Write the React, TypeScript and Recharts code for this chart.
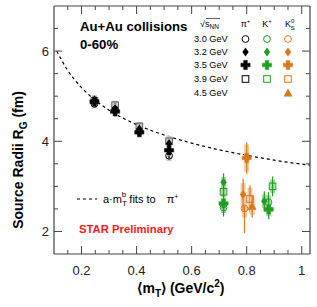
import { ComposedChart, Line, Scatter, XAxis, YAxis, ErrorBar } from 'recharts';

// colours / fonts
const FONT = '"Liberation Sans", Arial, Helvetica, sans-serif';
const FRAME = '#444444';
const BLACK = '#000000';
const GREEN = '#1f9e1f';
const ORANGE = '#d9781c';
const BAND = { pi: '#c8c8c8', kp: '#a8dca8', k0: '#f3c99f' };

// axes
const X_DOMAIN = [0.1, 1.03];
const Y_DOMAIN = [1.5, 7];
const X_TICKS = [0.15, 0.2, 0.25, 0.3, 0.35, 0.4, 0.45, 0.5, 0.55, 0.6, 0.65, 0.7, 0.75, 0.8, 0.85, 0.9, 0.95, 1.0];
const X_LABELS = [0.2, 0.4, 0.6, 0.8, 1];
const Y_TICKS = [2, 2.5, 3, 3.5, 4, 4.5, 5, 5.5, 6, 6.5];
const Y_LABELS = [2, 4, 6];

// a*mT^b fit to pi+
const FIT_MT = [0.11, 0.15, 0.2, 0.25, 0.3, 0.4, 0.5, 0.6, 0.7, 0.8, 0.9, 1.03];
const FIT_R = [6.0, 5.57, 5.19, 4.91, 4.69, 4.37, 4.14, 3.96, 3.81, 3.69, 3.58, 3.47];

// pi+
const PI_MT = [0.247, 0.322, 0.41, 0.518];
const PI_R_30 = [4.83, 4.7, 4.22, 3.68];
const PI_R_32 = [4.92, 4.72, 4.27, 3.95];
const PI_R_35 = [4.88, 4.66, 4.2, 3.8];
const PI_R_39 = [4.9, 4.8, 4.33, 4.0];
const PI_STAT = [0.05, 0.05, 0.05, 0.06];
const PI_SYS = [0.1, 0.1, 0.1, 0.12];

// K+
const KP_MT_30 = [0.716, 0.879];
const KP_MT_32 = [0.716, 0.864];
const KP_MT_35 = [0.716, 0.88];
const KP_MT_39 = [0.716, 0.894];
const KP_R_30 = [2.53, 2.65];
const KP_R_32 = [3.09, 2.67];
const KP_R_35 = [2.62, 2.49];
const KP_R_39 = [2.88, 3.0];
const KP_STAT = [0.2, 0.22];
const KP_SYS = [0.12, 0.15];

// K0s
const K0_MT = [0.792, 0.787, 0.8, 0.812, 0.82];
const K0_R = [2.51, 2.82, 3.63, 2.72, 2.56];
const K0_STAT = [0.55, 0.35, 0.35, 0.3, 0.25];
const K0_SYS = [0.2, 0.25, 0.3, 0.25, 0.2];

type Kind = 'circle' | 'diamond' | 'cross' | 'square' | 'triangle';

const fitData = FIT_MT.map((m, i) => ({ m, r: FIT_R[i] }));

const pts = (m: number[], r: number[], e: number[], s: number[]) =>
  m.map((v, i) => ({ m: v, r: r[i], e: e[i], s: s[i] }));

const SERIES: { key: string; kind: Kind; color: string; band: string; data: any[] }[] = [
  { key: 'pi30', kind: 'circle', color: BLACK, band: BAND.pi, data: pts(PI_MT, PI_R_30, PI_STAT, PI_SYS) },
  { key: 'pi39', kind: 'square', color: '#555', band: BAND.pi, data: pts(PI_MT, PI_R_39, PI_STAT, PI_SYS) },
  { key: 'pi35', kind: 'cross', color: BLACK, band: BAND.pi, data: pts(PI_MT, PI_R_35, PI_STAT, PI_SYS) },
  { key: 'pi32', kind: 'diamond', color: BLACK, band: BAND.pi, data: pts(PI_MT, PI_R_32, PI_STAT, PI_SYS) },
  { key: 'kp30', kind: 'circle', color: GREEN, band: BAND.kp, data: pts(KP_MT_30, KP_R_30, KP_STAT, KP_SYS) },
  { key: 'kp39', kind: 'square', color: GREEN, band: BAND.kp, data: pts(KP_MT_39, KP_R_39, KP_STAT, KP_SYS) },
  { key: 'kp35', kind: 'cross', color: GREEN, band: BAND.kp, data: pts(KP_MT_35, KP_R_35, KP_STAT, KP_SYS) },
  { key: 'kp32', kind: 'diamond', color: GREEN, band: BAND.kp, data: pts(KP_MT_32, KP_R_32, KP_STAT, KP_SYS) },
  ...(['circle', 'diamond', 'cross', 'square', 'triangle'] as Kind[]).map((kind, i) => ({
    key: `k0${i}`,
    kind,
    color: ORANGE,
    band: BAND.k0,
    data: pts([K0_MT[i]], [K0_R[i]], [K0_STAT[i]], [K0_SYS[i]]),
  })),
];

function Marker({ kind, cx, cy, color }: { kind: Kind; cx: number; cy: number; color: string }) {
  if (cx == null || cy == null) return null;
  switch (kind) {
    case 'circle':
      return <circle cx={cx} cy={cy} r={3.4} fill="none" stroke={color} strokeWidth={1} />;
    case 'square':
      return <rect x={cx - 3.3} y={cy - 3.3} width={6.6} height={6.6} fill="none" stroke={color} strokeWidth={1} />;
    case 'diamond':
      return <polygon points={`${cx},${cy - 4.6} ${cx + 3.2},${cy} ${cx},${cy + 4.6} ${cx - 3.2},${cy}`} fill={color} />;
    case 'triangle':
      return <polygon points={`${cx},${cy - 4.5} ${cx + 4.5},${cy + 3.5} ${cx - 4.5},${cy + 3.5}`} fill={color} />;
    case 'cross': {
      const a = 1.8;
      const L = 4.6;
      return (
        <path
          d={`M${cx - a},${cy - L}h${2 * a}v${L - a}h${L - a}v${2 * a}h${-(L - a)}v${L - a}h${-2 * a}v${-(L - a)}h${-(L - a)}v${-2 * a}h${L - a}z`}
          fill={color}
          stroke={color}
          strokeWidth={0.5}
          strokeLinejoin="round"
        />
      );
    }
  }
  return null;
}

const near = (list: number[], v: number) => list.some((l) => Math.abs(l - v) < 1e-6);

function XTick(props: any) {
  const { x, y, payload, side } = props;
  const major = near(X_LABELS, payload.value);
  const len = major ? 8 : 4;
  if (side === 'top') return <line x1={x} x2={x} y1={y} y2={y + len} stroke={FRAME} />;
  return (
    <g>
      <line x1={x} x2={x} y1={y} y2={y - len} stroke={FRAME} />
      {major && (
        <text x={x} y={y + 21} textAnchor="middle" fontSize={13} fontFamily={FONT} fill="#222">
          {payload.value === 1 ? '1' : payload.value.toFixed(1)}
        </text>
      )}
    </g>
  );
}

function YTick(props: any) {
  const { x, y, payload, side } = props;
  const major = near(Y_LABELS, payload.value);
  const len = major ? 8 : 4;
  if (side === 'right') return <line x1={x} x2={x - len} y1={y} y2={y} stroke={FRAME} />;
  return (
    <g>
      <line x1={x} x2={x + len} y1={y} y2={y} stroke={FRAME} />
      {major && (
        <text x={x - 5} y={y + 5} textAnchor="end" fontSize={13} fontFamily={FONT} fill="#222">
          {payload.value}
        </text>
      )}
    </g>
  );
}

const ROWS: { label: string; kind: Kind; cols: boolean[] }[] = [
  { label: '3.0 GeV', kind: 'circle', cols: [true, true, true] },
  { label: '3.2 GeV', kind: 'diamond', cols: [true, true, true] },
  { label: '3.5 GeV', kind: 'cross', cols: [true, true, true] },
  { label: '3.9 GeV', kind: 'square', cols: [true, true, true] },
  { label: '4.5 GeV', kind: 'triangle', cols: [false, false, true] },
];
const COL_X = [245.5, 267, 288];
const COL_C = [BLACK, GREEN, ORANGE];
const ROW_Y = [39, 52, 65, 79, 93];

function Overlay() {
  return (
    <svg width={317} height={307} style={{ position: 'absolute', left: 0, top: 0, pointerEvents: 'none' }} fontFamily={FONT}>
      <text x={80} y={31} fontSize={13.2} fontWeight="bold">Au+Au collisions</text>
      <text x={80} y={49} fontSize={13.2} fontWeight="bold">0-60%</text>

      {/* legend table */}
      <text x={200} y={27} fontSize={9}>
        √<tspan>s</tspan>
        <tspan fontSize={6.5} dy={2}>NN</tspan>
      </text>
      <line x1={206} x2={220} y1={18.5} y2={18.5} stroke="#222" strokeWidth={0.7} />
      <text x={COL_X[0]} y={27} fontSize={9} textAnchor="middle">
        π<tspan fontSize={6} dy={-4}>+</tspan>
      </text>
      <text x={COL_X[1]} y={27} fontSize={9} textAnchor="middle">
        K<tspan fontSize={6} dy={-4}>+</tspan>
      </text>
      <text x={COL_X[2] - 3} y={27} fontSize={9}>
        K<tspan fontSize={6} dy={-4}>0</tspan>
        <tspan fontSize={6} dx={-3.5} dy={7}>S</tspan>
      </text>
      {ROWS.map((row, i) => (
        <g key={row.label}>
          <text x={194} y={ROW_Y[i] + 3.3} fontSize={9.2}>{row.label}</text>
          {row.cols.map((on, j) =>
            on ? <Marker key={j} kind={row.kind} cx={COL_X[j]} cy={ROW_Y[i]} color={COL_C[j]} /> : null
          )}
        </g>
      ))}

      {/* fit legend */}
      <line x1={77} x2={97} y1={199} y2={199} stroke={BLACK} strokeWidth={1.2} strokeDasharray="3 3" />
      <text x={103} y={203} fontSize={11}>
        a·m<tspan fontSize={8} dy={3}>T</tspan>
        <tspan fontSize={8} dx={-5} dy={-9}>b</tspan>
        <tspan dy={6}> fits to </tspan>
        <tspan dx={8}>π</tspan>
        <tspan fontSize={7} dy={-4}>+</tspan>
      </text>

      <text x={79} y={233} fontSize={11.3} fontWeight="bold" fill="#ff1a1a">STAR Preliminary</text>

      {/* axis titles */}
      <text x={181} y={293} fontSize={14} fontWeight="bold" textAnchor="middle">
        ⟨m<tspan fontSize={10} dy={4}>T</tspan>
        <tspan dy={-4}>⟩ (GeV/c</tspan>
        <tspan fontSize={10} dy={-6}>2</tspan>
        <tspan dy={6}>)</tspan>
      </text>
      <text transform="translate(23,160) rotate(-90)" fontSize={14} fontWeight="bold" textAnchor="middle">
        Source Radii R<tspan fontSize={10} dy={4}>G</tspan>
        <tspan dy={-4}> (fm)</tspan>
      </text>
    </svg>
  );
}

export default function App() {
  const common = { type: 'number' as const, allowDataOverflow: true, tickLine: false, tickSize: 0, tickMargin: 0, interval: 0 as const, axisLine: { stroke: FRAME, strokeWidth: 1.2 } };
  return (
    <div style={{ position: 'absolute', left: 0, top: 0, width: 317, height: 307, background: '#fff' }}>
      <ComposedChart width={317} height={307} margin={{ top: 5, right: 6, bottom: 52, left: 53 }}>
        <XAxis xAxisId="b" dataKey="m" domain={X_DOMAIN} ticks={X_TICKS} height={1} {...common} tick={(p: any) => <XTick {...p} side="bottom" />} />
        <XAxis xAxisId="t" orientation="top" dataKey="m" domain={X_DOMAIN} ticks={X_TICKS} height={1} {...common} tick={(p: any) => <XTick {...p} side="top" />} />
        <YAxis yAxisId="l" dataKey="r" domain={Y_DOMAIN} ticks={Y_TICKS} width={1} {...common} tick={(p: any) => <YTick {...p} side="left" />} />
        <YAxis yAxisId="r" orientation="right" dataKey="r" domain={Y_DOMAIN} ticks={Y_TICKS} width={1} {...common} tick={(p: any) => <YTick {...p} side="right" />} />

        <Line
          xAxisId="b"
          yAxisId="l"
          data={fitData}
          dataKey="r"
          type="monotone"
          stroke={BLACK}
          strokeWidth={1.2}
          strokeDasharray="3 3"
          dot={false}
          isAnimationActive={false}
        />
        {SERIES.map((s) => (
          <Scatter
            key={s.key}
            xAxisId="b"
            yAxisId="l"
            data={s.data}
            dataKey="r"
            isAnimationActive={false}
            shape={(p: any) => <Marker kind={s.kind} cx={p.cx} cy={p.cy} color={s.color} />}
          >
            <ErrorBar dataKey="s" direction="y" width={0} stroke={s.band} strokeWidth={5} isAnimationActive={false} />
            <ErrorBar dataKey="e" direction="y" width={0} stroke={s.color} strokeWidth={1.2} isAnimationActive={false} />
          </Scatter>
        ))}
      </ComposedChart>
      <Overlay />
    </div>
  );
}
